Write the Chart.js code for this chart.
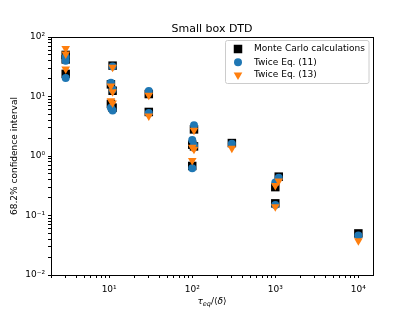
<!DOCTYPE html>
<html>
<head>
<meta charset="utf-8">
<script src="https://cdn.jsdelivr.net/npm/chart.js@4.4.1/dist/chart.umd.min.js"></script>
<style>
    html, body { margin: 0; padding: 0; background: #fff; }
    #wrap { width: 415px; height: 311px; }
</style>
</head>
<body>
<div id="wrap"><canvas id="chart"></canvas></div>
<script>
// Values (tau_eq/<delta>, 68.2% CI)
const mcTau   = [3, 3, 3, 11, 10.5, 11, 10.5, 11, 30, 30, 105, 100, 105, 100, 300, 1100, 1000, 1000, 10000];
const mcCI    = [50, 42, 24, 33, 16, 12.5, 7.5, 6.5, 11, 5.5, 2.8, 1.55, 1.45, 0.68, 1.65, 0.45, 0.30, 0.16, 0.05];
const eq11Tau = [3, 3, 3, 11, 10.5, 11, 10.5, 11, 30, 30, 105, 100, 105, 100, 300, 1100, 1000, 1000, 10000];
const eq11CI  = [46, 40, 20.5, 32, 17, 13, 6.5, 5.8, 12.4, 5.3, 3.3, 1.85, 1.5, 0.62, 1.6, 0.43, 0.36, 0.15, 0.046];
const eq13Tau = [3, 3, 3, 11, 10.5, 11, 10.5, 11, 30, 30, 105, 100, 105, 100, 300, 1100, 1000, 1000, 10000];
const eq13CI  = [64, 52, 29, 31, 15, 12, 8.5, 7.8, 10.5, 4.7, 2.7, 1.4, 1.3, 0.84, 1.35, 0.38, 0.32, 0.14, 0.0375];

const seriesNames = ['Monte Carlo calculations', 'Twice Eq. (11)', 'Twice Eq. (13)'];
const xTickExps = [0, 1, 2, 3, 4];
const yTickExps = [-2, -1, 0, 1, 2];

const FONT = 'DejaVu Sans';
const supers = { '-': '\u207B', '0': '\u2070', '1': '\u00B9', '2': '\u00B2', '3': '\u00B3', '4': '\u2074' };

function powLabel(exp) {
    return '10' + String(exp).split('').map(c => supers[c]).join('');
}

function toPoints(xs, ys) {
    return xs.map((x, i) => ({ x: x, y: ys[i] }));
}

// major + minor tick values (1..9 x 10^n) within range
function logTicks(exps, min, max) {
    const out = [];
    for (let e = exps[0] - 1; e <= exps[exps.length - 1]; e++) {
        for (let m = 1; m <= 9; m++) {
            const v = m * Math.pow(10, e);
            if (v >= min * 0.9999 && v <= max * 1.0001) out.push({ value: v });
        }
    }
    return out;
}

function isPow10(v) {
    const l = Math.log10(v);
    return Math.abs(l - Math.round(l)) < 1e-9;
}

const X_MIN = 1.995, X_MAX = 15000;
const Y_MIN = 0.01, Y_MAX = 100;

// draws title, axis labels, full frame and the in-plot legend
const decorPlugin = {
    id: 'decor',
    afterDraw(chart) {
        const ctx = chart.ctx;
        const a = chart.chartArea;
        ctx.save();

        // frame
        ctx.strokeStyle = '#000';
        ctx.lineWidth = 1;
        ctx.strokeRect(Math.round(a.left) + 0.5, Math.round(a.top) + 0.5,
            Math.round(a.right - a.left), Math.round(a.bottom - a.top));

        // title
        ctx.fillStyle = '#000';
        ctx.font = '11px "' + FONT + '"';
        ctx.textAlign = 'center';
        ctx.textBaseline = 'alphabetic';
        ctx.fillText('Small box DTD', (a.left + a.right) / 2, 32);

        // y label
        ctx.save();
        ctx.translate(15, (a.top + a.bottom) / 2);
        ctx.rotate(-Math.PI / 2);
        ctx.font = '9px "' + FONT + '"';
        ctx.textBaseline = 'middle';
        ctx.fillText('68.2% confidence interval', 0, 0);
        ctx.restore();

        // x label: tau_eq/<delta>
        const parts = [
            { t: '\u03C4', f: 'italic 9px "' + FONT + '"', dy: 0 },
            { t: 'eq', f: 'italic 6.5px "' + FONT + '"', dy: 2 },
            { t: '/\u27E8', f: '9px "' + FONT + '"', dy: 0 },
            { t: '\u03B4', f: 'italic 9px "' + FONT + '"', dy: 0 },
            { t: '\u27E9', f: '9px "' + FONT + '"', dy: 0 }
        ];
        let total = 0;
        parts.forEach(p => { ctx.font = p.f; p.w = ctx.measureText(p.t).width; total += p.w; });
        let px = (a.left + a.right) / 2 - total / 2;
        ctx.textAlign = 'left';
        ctx.textBaseline = 'alphabetic';
        parts.forEach(p => { ctx.font = p.f; ctx.fillText(p.t, px, 303.5 + p.dy); px += p.w; });

        // legend
        const lx = 225.5, ly = 40.5, lw = 143.5, lh = 43;
        ctx.beginPath();
        ctx.roundRect(lx, ly, lw, lh, 2);
        ctx.fillStyle = 'rgba(255,255,255,0.8)';
        ctx.fill();
        ctx.strokeStyle = '#cccccc';
        ctx.lineWidth = 1;
        ctx.stroke();

        const rowY = [49, 62.3, 75];
        chart.data.datasets.forEach((ds, i) => {
            const mx = 238, my = rowY[i];
            ctx.fillStyle = ds.backgroundColor;
            ctx.beginPath();
            if (ds.pointStyle === 'rect') {
                ctx.fillRect(mx - 4.25, my - 4.25, 8.5, 8.5);
            } else if (ds.pointStyle === 'circle') {
                ctx.arc(mx, my, 4, 0, Math.PI * 2);
                ctx.fill();
            } else {
                const r = 5;
                ctx.moveTo(mx - r * 0.866, my - r * 0.5);
                ctx.lineTo(mx + r * 0.866, my - r * 0.5);
                ctx.lineTo(mx, my + r);
                ctx.closePath();
                ctx.fill();
            }
            ctx.fillStyle = '#000';
            ctx.font = '9px "' + FONT + '"';
            ctx.textAlign = 'left';
            ctx.textBaseline = 'middle';
            ctx.fillText(seriesNames[i], 254, my);
        });

        ctx.restore();
    }
};

const axisCommon = {
    type: 'logarithmic',
    grid: {
        drawOnChartArea: false,
        drawTicks: true,
        tickLength: 3,
        color: '#000',
        lineWidth: 1
    },
    border: { display: true, color: '#000', width: 1 },
    ticks: {
        autoSkip: false,
        maxRotation: 0,
        minRotation: 0,
        color: '#000',
        font: { family: FONT, size: 9 },
        padding: 3,
        callback: (v) => isPow10(v) ? powLabel(Math.round(Math.log10(v))) : ''
    }
};

new Chart(document.getElementById('chart'), {
    type: 'scatter',
    data: {
        datasets: [
            {
                label: seriesNames[0],
                data: toPoints(mcTau, mcCI),
                pointStyle: 'rect',
                pointRadius: 6,
                backgroundColor: '#000000',
                borderColor: '#000000',
                borderWidth: 0,
                order: 3
            },
            {
                label: seriesNames[1],
                data: toPoints(eq11Tau, eq11CI),
                pointStyle: 'circle',
                pointRadius: 4,
                backgroundColor: '#1f77b4',
                borderColor: '#1f77b4',
                borderWidth: 0,
                order: 2
            },
            {
                label: seriesNames[2],
                data: toPoints(eq13Tau, eq13CI),
                pointStyle: 'triangle',
                pointRadius: 5,
                rotation: 180,
                backgroundColor: '#ff7f0e',
                borderColor: '#ff7f0e',
                borderWidth: 0,
                order: 1
            }
        ]
    },
    options: {
        responsive: true,
        maintainAspectRatio: false,
        animation: false,
        layout: { padding: { top: 37, right: 42, left: 0, bottom: 0 } },
        plugins: {
            legend: { display: false },
            title: { display: false },
            tooltip: { enabled: false }
        },
        scales: {
            x: {
                ...axisCommon,
                ticks: { ...axisCommon.ticks, padding: 6 },
                min: X_MIN,
                max: X_MAX,
                afterBuildTicks: (scale) => { scale.ticks = logTicks(xTickExps, X_MIN, X_MAX); },
                afterFit: (scale) => { scale.height = 36; }
            },
            y: {
                ...axisCommon,
                min: Y_MIN,
                max: Y_MAX,
                afterBuildTicks: (scale) => { scale.ticks = logTicks(yTickExps, Y_MIN, Y_MAX); },
                afterFit: (scale) => { scale.width = 51; }
            }
        }
    },
    plugins: [decorPlugin]
});
</script>
</body>
</html>
